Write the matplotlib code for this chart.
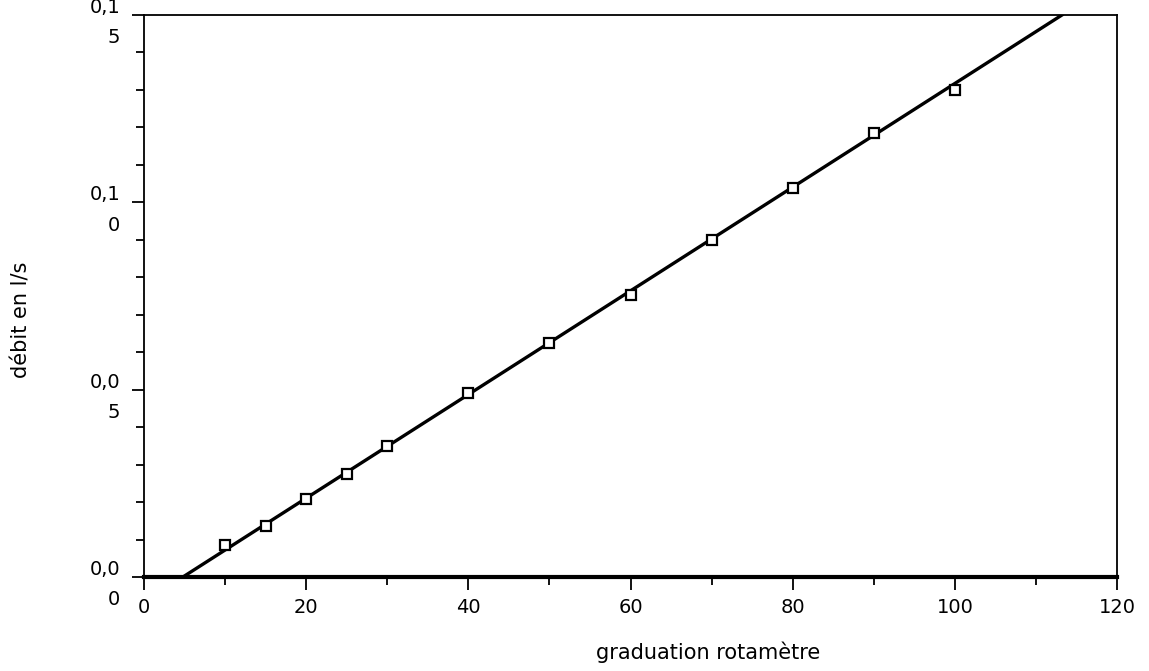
import numpy as np
import matplotlib
matplotlib.use("Agg")
import matplotlib.pyplot as plt
from matplotlib.ticker import MultipleLocator

# graduation du rotametre et debit mesure (l/s)
graduation = [10, 15, 20, 25, 30, 40, 50, 60, 70, 80, 90, 100]
debit = [0.0085, 0.0136, 0.0208, 0.0275, 0.0350, 0.0491, 0.0624,
         0.0753, 0.0899, 0.1038, 0.1185, 0.1300]

# droite d'etalonnage (extremites)
fit_x = [4.8, 113.2]
fit_y = [0.0, 0.15]

y_ticks = [0.0, 0.05, 0.10, 0.15]
y_labels = ["0,0\n0", "0,0\n5", "0,1\n0", "0,1\n5"]
x_ticks = [0, 20, 40, 60, 80, 100, 120]

plt.rcParams['font.family'] = ['DejaVu Sans']
fig = plt.figure(figsize=(11.49, 6.71), dpi=100)
ax = fig.add_axes([0.1253, 0.1401, 0.8469, 0.8375])

ax.plot(fit_x, fit_y, color="black", linewidth=2.4, zorder=3)
ax.plot(graduation, debit, linestyle="none", marker="s", markersize=7,
        markerfacecolor="white", markeredgecolor="black", markeredgewidth=1.6, zorder=4)

ax.set_xlim(0, 120)
ax.set_ylim(0, 0.15)
ax.set_xticks(x_ticks)
ax.set_xticklabels([str(v) for v in x_ticks])
ax.set_yticks(y_ticks)
ax.set_yticklabels(y_labels, linespacing=1.75)
ax.xaxis.set_minor_locator(MultipleLocator(10))
ax.yaxis.set_minor_locator(MultipleLocator(0.01))

ax.tick_params(axis="both", which="major", direction="out", length=9, width=1.3,
               labelsize=14, pad=6)
ax.tick_params(axis="both", which="minor", direction="out", length=6, width=1.3)
ax.tick_params(axis="y", which="major", pad=8)

for side in ["top", "right", "left"]:
    ax.spines[side].set_linewidth(1.3)
ax.spines["bottom"].set_linewidth(3)

fig.text(0.616, 1 - 652 / 671, "graduation rotamètre", fontsize=15,
         ha="center", va="center")
fig.text(22 / 1149, 1 - 320 / 671, "débit en l/s", fontsize=15,
         ha="center", va="center", rotation=90)

fig.savefig("out.png", dpi=100)
